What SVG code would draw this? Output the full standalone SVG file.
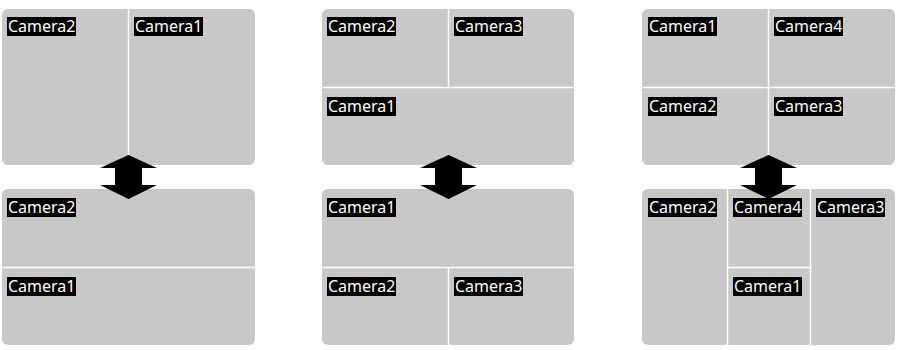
<svg xmlns="http://www.w3.org/2000/svg" width="897" height="350" viewBox="0 0 897 350">
<defs>
<style>
.panel{fill:#c8c8c8}
.div{stroke:#ffffff;stroke-width:1.5;fill:none}
.lbl rect{fill:#000000}
.lbl text{fill:#ffffff;font-family:"Noto Sans","Open Sans","DejaVu Sans",sans-serif;font-size:16px}
.arrow{fill:#000000}
</style>
</defs>
<rect width="897" height="350" fill="#ffffff"/>

<g id="layout1-before">
<rect class="panel" x="2" y="9" width="253" height="156" rx="6"/>
<line class="div" x1="128.5" y1="9" x2="128.5" y2="165"/>
<g class="lbl"><rect x="7" y="17" width="69" height="19"/><text x="8" y="32">Camera2</text></g>
<g class="lbl"><rect x="134" y="17" width="69" height="19"/><text x="135" y="32">Camera1</text></g>
</g>
<g id="layout1-after">
<rect class="panel" x="2" y="189" width="253" height="156" rx="6"/>
<line class="div" x1="2" y1="267.5" x2="255" y2="267.5"/>
<g class="lbl"><rect x="7" y="198" width="69" height="19"/><text x="8" y="213">Camera2</text></g>
<g class="lbl"><rect x="7" y="277" width="69" height="19"/><text x="8" y="292">Camera1</text></g>
</g>

<g id="layout2-before">
<rect class="panel" x="322" y="9" width="252" height="156" rx="6"/>
<line class="div" x1="448.5" y1="9" x2="448.5" y2="87.5"/>
<line class="div" x1="322" y1="87.5" x2="574" y2="87.5"/>
<g class="lbl"><rect x="327" y="17" width="69" height="19"/><text x="328" y="32">Camera2</text></g>
<g class="lbl"><rect x="454" y="17" width="69" height="19"/><text x="455" y="32">Camera3</text></g>
<g class="lbl"><rect x="327" y="97" width="69" height="19"/><text x="328" y="112">Camera1</text></g>
</g>
<g id="layout2-after">
<rect class="panel" x="322" y="189" width="252" height="156" rx="6"/>
<line class="div" x1="322" y1="267.5" x2="574" y2="267.5"/>
<line class="div" x1="448.5" y1="267.5" x2="448.5" y2="345"/>
<g class="lbl"><rect x="327" y="198" width="69" height="19"/><text x="328" y="213">Camera1</text></g>
<g class="lbl"><rect x="327" y="277" width="69" height="19"/><text x="328" y="292">Camera2</text></g>
<g class="lbl"><rect x="454" y="277" width="69" height="19"/><text x="455" y="292">Camera3</text></g>
</g>

<g id="layout3-before">
<rect class="panel" x="642" y="9" width="253" height="156" rx="6"/>
<line class="div" x1="768.5" y1="9" x2="768.5" y2="165"/>
<line class="div" x1="642" y1="87.5" x2="895" y2="87.5"/>
<g class="lbl"><rect x="648" y="17" width="69" height="19"/><text x="649" y="32">Camera1</text></g>
<g class="lbl"><rect x="774" y="17" width="69" height="19"/><text x="775" y="32">Camera4</text></g>
<g class="lbl"><rect x="648" y="97" width="69" height="19"/><text x="649" y="112">Camera2</text></g>
<g class="lbl"><rect x="774" y="97" width="69" height="19"/><text x="775" y="112">Camera3</text></g>
</g>
<g id="layout3-after">
<rect class="panel" x="642" y="189" width="253" height="156" rx="6"/>
<line class="div" x1="727.5" y1="189" x2="727.5" y2="345"/>
<line class="div" x1="810.5" y1="189" x2="810.5" y2="345"/>
<line class="div" x1="727.5" y1="267.5" x2="810.5" y2="267.5"/>
<g class="lbl"><rect x="648" y="198" width="69" height="19"/><text x="649" y="213">Camera2</text></g>
<g class="lbl"><rect x="733" y="198" width="69" height="19"/><text x="734" y="213">Camera4</text></g>
<g class="lbl"><rect x="816" y="198" width="69" height="19"/><text x="817" y="213">Camera3</text></g>
<g class="lbl"><rect x="733" y="277" width="69" height="19"/><text x="734" y="292">Camera1</text></g>
</g>

<g id="connectors">
<polygon class="arrow" points="128.5,155 157,168 142,168 142,185 157,185 128.5,199 100,185 115,185 115,168 100,168"/>
<polygon class="arrow" points="448.5,155 477,168 462,168 462,185 477,185 448.5,199 420,185 435,185 435,168 420,168"/>
<polygon class="arrow" points="768.5,155 797,168 782,168 782,185 797,185 768.5,199 740,185 755,185 755,168 740,168"/>
</g>
</svg>
